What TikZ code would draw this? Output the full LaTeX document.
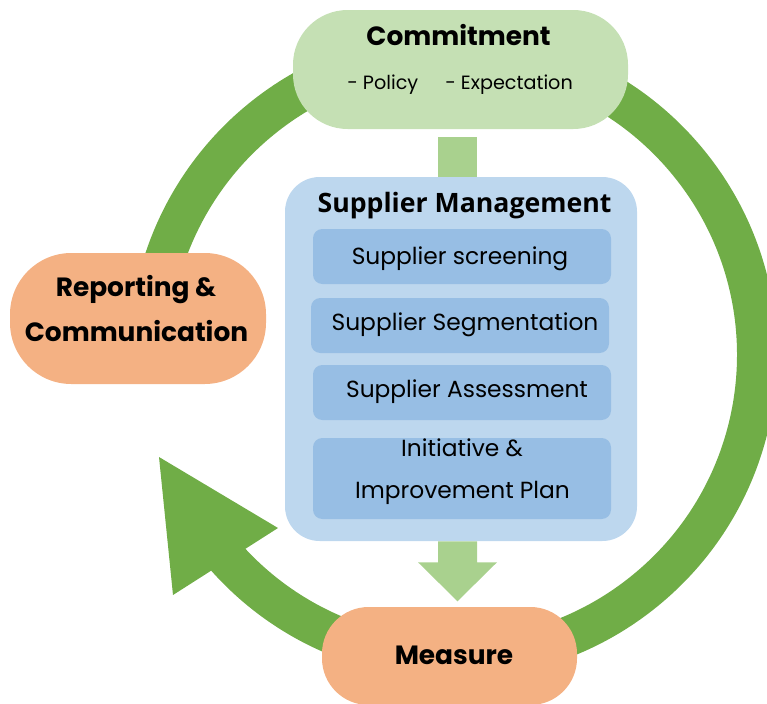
\documentclass[tikz,border=0pt]{standalone}
\usepackage{fontspec}
\setmainfont{Poppins}
\newfontfamily\hdfont{Open Sans}
\usetikzlibrary{calc}
\definecolor{ringgreen}{HTML}{70AD47}
\definecolor{commitfill}{HTML}{C5E0B4}
\definecolor{connfill}{HTML}{A9D18E}
\definecolor{supfill}{HTML}{BDD7EE}
\definecolor{itemfill}{HTML}{97BEE4}
\definecolor{orangefill}{HTML}{F4B183}
\begin{document}
\begin{tikzpicture}[x=0.75pt,y=-0.75pt,
  pill/.style={rectangle, inner sep=0pt, draw=none},
  item/.style={rectangle, rounded corners=7pt, fill=itemfill, minimum width=223.5pt, minimum height=41.25pt, inner sep=0pt},
  itemtxt/.style={anchor=base, inner sep=0pt, font=\fontsize{17.5}{21}\selectfont},
  subtxt/.style={anchor=base west, inner sep=0pt, font=\fontsize{14.4}{17}\selectfont},
  boldtxt/.style={anchor=base, inner sep=0pt, font=\fontsize{19.8}{24}\selectfont\bfseries},
  hdtxt/.style={anchor=base, inner sep=0pt, font=\hdfont\fontsize{20}{24}\selectfont\bfseries},
]
\useasboundingbox (0,0) rectangle (767,703);
% cycle ring
\coordinate (rc) at (453,355);
\draw[ringgreen, line width=30pt] ($(rc)+(140:304)$) arc[start angle=140, end angle=-182, radius=304];
\coordinate (tipA) at (278,528);
\coordinate (tipB) at (173,595);
\coordinate (tipC) at (159,457);
\fill[ringgreen] (tipA) -- (tipB) -- (tipC) -- cycle;
% main nodes
\node[pill, fill=commitfill, rounded corners=41pt, minimum width=251.25pt, minimum height=89.25pt] (commit) at (460.5,69.5) {};
\node[pill, fill=orangefill, rounded corners=46pt, minimum width=192pt, minimum height=98.25pt] (report) at (138,318.5) {};
\node[pill, fill=orangefill, rounded corners=35pt, minimum width=191.25pt, minimum height=73.5pt] (measure) at (449.5,656) {};
% top connector
\fill[connfill] ($(commit.south)+(-22.5,8)$) rectangle ($(commit.south)+(16.5,50)$);
% supplier management
\node[pill, fill=supfill, rounded corners=26pt, minimum width=264pt, minimum height=273pt] (sup) at (461,359) {};
\node[item] (i1) at (462,256.5) {};
\node[item] (i2) at (460,325.5) {};
\node[item] (i3) at (462,392.5) {};
\node[item, minimum height=60.75pt] (i4) at (462,478.5) {};
% bottom arrow
\fill[connfill] ($(sup.south)+(-23,0)$) -- ($(sup.south)+(16,0)$) -- ($(sup.south)+(16,21)$) -- ($(sup.south)+(36,21)$) -- ($(sup.south)+(-3.5,60)$) -- ($(sup.south)+(-43,21)$) -- ($(sup.south)+(-23,21)$) -- cycle;
% texts
\node[boldtxt] (commitT) at (458.5,45) {Commitment};
\node[subtxt] (polT) at (347,89.3) {- Policy};
\node[subtxt] (expT) at (445,89.3) {- Expectation};
\node[hdtxt] (supT) at (464.5,212.3) {Supplier Management};
\node[itemtxt] (i1T) at (460,264.3) {Supplier screening};
\node[itemtxt] (i2T) at (465,330.7) {Supplier Segmentation};
\node[itemtxt] (i3T) at (467,397.7) {Supplier Assessment};
\node[itemtxt] (i4Ta) at (462,456) {Initiative \&};
\node[itemtxt] (i4Tb) at (462.5,498.3) {Improvement Plan};
\node[boldtxt] (repTa) at (136,296.7) {Reporting \&};
\node[boldtxt] (repTb) at (136.5,341.7) {Communication};
\node[boldtxt] (measT) at (454,664.3) {Measure};
\end{tikzpicture}
\end{document}
